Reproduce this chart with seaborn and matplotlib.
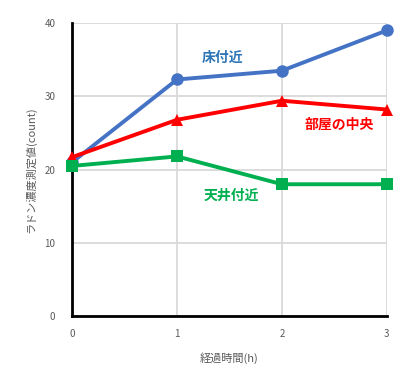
import numpy as np
import pandas as pd
import seaborn as sns
import matplotlib.pyplot as plt

# data
hours = [0, 1, 2, 3]
floor = [21.0, 32.3, 33.5, 39.0]       # 床付近
middle = [21.7, 26.8, 29.4, 28.2]      # 部屋の中央
ceiling = [20.5, 21.8, 18.0, 18.0]     # 天井付近
names = ["床付近", "部屋の中央", "天井付近"]

df = pd.DataFrame({
	"hours": hours * 3,
	"value": floor + middle + ceiling,
	"place": np.repeat(names, len(hours)),
})

sns.set_theme(style="white")
plt.rcParams['font.family'] = ['Noto Sans CJK JP', 'DejaVu Sans']

colors = {"床付近": "#4472C4", "部屋の中央": "#FF0000", "天井付近": "#00B050"}
markers = {"床付近": "o", "部屋の中央": "^", "天井付近": "s"}

fig = plt.figure(figsize=(4.12, 3.85), dpi=100)
ax = fig.add_axes([0.175, 0.179, 0.764, 0.761])

for name in names:
	sub = df[df["place"] == name]
	sns.lineplot(data=sub, x="hours", y="value", color=colors[name], marker=markers[name],
				 markersize=9, markeredgewidth=0, linewidth=2.8, ax=ax, legend=False, zorder=3)

ax.set_xlim(0, 3)
ax.set_ylim(0, 40)
ax.set_xticks([0, 1, 2, 3])
ax.set_yticks([0, 10, 20, 30, 40])
ax.grid(True, color="#D9D9D9", linewidth=1.3)
ax.set_axisbelow(True)
for s in ["top", "right"]:
	ax.spines[s].set_visible(False)
for s in ["left", "bottom"]:
	ax.spines[s].set_color("black")
	ax.spines[s].set_linewidth(2)
ax.tick_params(axis="both", labelsize=7, colors="#595959", length=0)
ax.tick_params(axis="x", pad=9)
ax.tick_params(axis="y", pad=12)
ax.set_xlabel("経過時間(h)", fontsize=8, color="#595959", labelpad=10)
ax.set_ylabel("ラドン濃度測定値(count)", fontsize=8, color="#595959", labelpad=6)

ax.text(1.43, 35.3, "床付近", color="#2E75B6", fontsize=10, ha="center", va="center", fontweight="bold")
ax.text(2.55, 26.1, "部屋の中央", color="#FF0000", fontsize=10, ha="center", va="center", fontweight="bold")
ax.text(1.52, 16.4, "天井付近", color="#00B050", fontsize=10, ha="center", va="center", fontweight="bold")

for line in ax.lines:
	line.set_clip_on(False)

plt.savefig("out.png", dpi=100)
